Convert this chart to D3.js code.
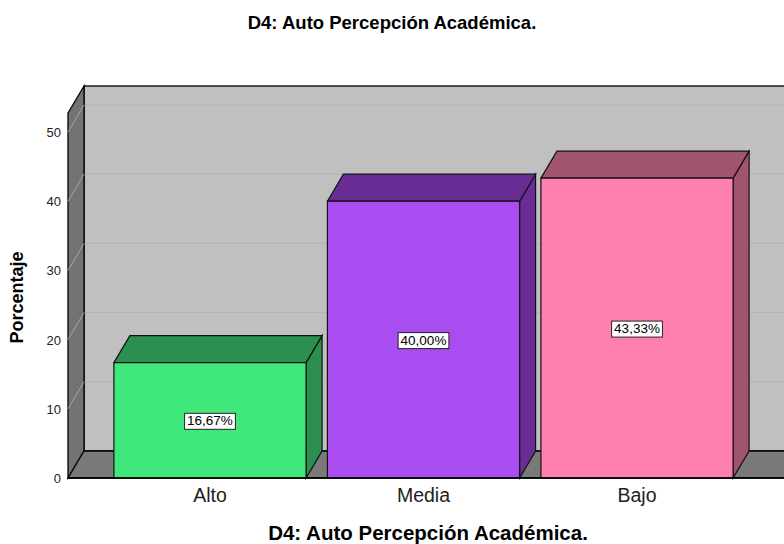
<!DOCTYPE html>
<html>
<head>
<meta charset="utf-8">
<script src="https://cdn.jsdelivr.net/npm/d3@7"></script>
<style>
  body { margin: 0; background: #fff; }
  text { font-family: "Liberation Sans", Arial, sans-serif; }
</style>
</head>
<body>
<div id="container"></div>
<script>
// data
const categories = ["Alto", "Media", "Bajo"];
const values = [16.67, 40.00, 43.33];
const valueLabels = ["16,67%", "40,00%", "43,33%"];
const yTicks = [0, 10, 20, 30, 40, 50];
const frontColors = ["#40e87c", "#a94cf0", "#ff80b0"];
const sideColors = ["#2a8f4f", "#6a2d96", "#a0546e"];

const W = 784, H = 544;
const dx = 16, dy = -27;   // depth offset of the 3D box

const svg = d3.select("#container")
  .append("svg")
    .attr("width", W)
    .attr("height", H);

const x = d3.scaleBand()
  .domain(categories)
  .range([68, 779])
  .paddingInner(0.1)
  .paddingOuter(0.215);

const y = d3.scaleLinear()
  .domain([0, 50])
  .range([478, 132]);

const yTop = 113; // front top of the left wall
const x0 = x.range()[0], x1 = x.range()[1];
const y0 = y(0);

// back wall
svg.append("rect")
  .attr("x", x0 + dx).attr("y", yTop + dy)
  .attr("width", x1 - x0 + 20).attr("height", y0 - yTop)
  .attr("fill", "#c0c0c0")
  .attr("stroke", "#000").attr("stroke-width", 1.3);

// back wall grid lines
svg.selectAll(".grid")
  .data(yTicks.filter(d => d > 0))
  .join("line")
    .attr("x1", x0 + dx).attr("x2", x1 + dx + 20)
    .attr("y1", d => y(d) + dy).attr("y2", d => y(d) + dy)
    .attr("stroke", "#b3b3b3").attr("stroke-width", 1);

// left wall
svg.append("path")
  .attr("d", `M${x0},${yTop} L${x0 + dx},${yTop + dy} L${x0 + dx},${y0 + dy} L${x0},${y0} Z`)
  .attr("fill", "#737373")
  .attr("stroke", "#000").attr("stroke-width", 1.3);

// diagonal grid on the left wall
svg.selectAll(".wallgrid")
  .data(yTicks)
  .join("line")
    .attr("x1", x0).attr("x2", x0 + dx)
    .attr("y1", d => y(d)).attr("y2", d => y(d) + dy)
    .attr("stroke", "#a6a6a6").attr("stroke-width", 1);

// floor
svg.append("path")
  .attr("d", `M${x0},${y0} L${x0 + dx},${y0 + dy} L${x1 + dx + 20},${y0 + dy} L${x1 + 20},${y0} Z`)
  .attr("fill", "#7a7a7a")
  .attr("stroke", "#000").attr("stroke-width", 1.3);

// bars
const bars = svg.selectAll(".bar")
  .data(categories)
  .join("g");

bars.append("path") // side
  .attr("d", (d, i) => {
    const xr = x(d) + x.bandwidth(), yt = y(values[i]);
    return `M${xr},${yt} L${xr + dx},${yt + dy} L${xr + dx},${y0 + dy} L${xr},${y0} Z`;
  })
  .attr("fill", (d, i) => sideColors[i])
  .attr("stroke", "#111").attr("stroke-width", 1.2);

bars.append("path") // top
  .attr("d", (d, i) => {
    const xl = x(d), xr = x(d) + x.bandwidth(), yt = y(values[i]);
    return `M${xl},${yt} L${xl + dx},${yt + dy} L${xr + dx},${yt + dy} L${xr},${yt} Z`;
  })
  .attr("fill", (d, i) => sideColors[i])
  .attr("stroke", "#111").attr("stroke-width", 1.2);

bars.append("rect") // front
  .attr("x", d => x(d))
  .attr("y", (d, i) => y(values[i]))
  .attr("width", x.bandwidth())
  .attr("height", (d, i) => y0 - y(values[i]))
  .attr("fill", (d, i) => frontColors[i])
  .attr("stroke", "#111").attr("stroke-width", 1.2);

// value labels
bars.each(function(d, i) {
  const g = d3.select(this);
  const cx = x(d) + x.bandwidth() / 2;
  const cy = (y(values[i]) + y0) / 2;
  const t = g.append("text")
    .attr("x", cx).attr("y", cy + 5)
    .attr("text-anchor", "middle")
    .style("font-size", "13.5px")
    .attr("fill", "#000")
    .text(valueLabels[i]);
  const bb = t.node().getBBox();
  g.insert("rect", "text")
    .attr("x", bb.x - 2.5).attr("y", bb.y)
    .attr("width", bb.width + 5).attr("height", bb.height + 1)
    .attr("fill", "#fff")
    .attr("stroke", "#222").attr("stroke-width", 1);
});

// bottom axis line
svg.append("line")
  .attr("x1", x0).attr("x2", x1 + 20)
  .attr("y1", y0).attr("y2", y0)
  .attr("stroke", "#000").attr("stroke-width", 1.5);

// y tick labels
svg.selectAll(".ytick")
  .data(yTicks)
  .join("text")
    .attr("x", 61)
    .attr("y", d => y(d) + 5)
    .attr("text-anchor", "end")
    .style("font-size", "13px")
    .attr("fill", "#222")
    .text(d => d);

// category labels
svg.selectAll(".xlab")
  .data(categories)
  .join("text")
    .attr("x", d => x(d) + x.bandwidth() / 2)
    .attr("y", 502)
    .attr("text-anchor", "middle")
    .style("font-size", "19.5px")
    .attr("fill", "#222")
    .text(d => d);

// titles
svg.append("text")
  .attr("x", 392).attr("y", 29)
  .attr("text-anchor", "middle")
  .style("font-size", "18.5px").style("font-weight", "bold")
  .text("D4: Auto Percepción Académica.");

svg.append("text")
  .attr("x", 428).attr("y", 540)
  .attr("text-anchor", "middle")
  .style("font-size", "20.5px").style("font-weight", "bold")
  .text("D4: Auto Percepción Académica.");

svg.append("text")
  .attr("transform", "translate(23,297.5) rotate(-90)")
  .attr("text-anchor", "middle")
  .style("font-size", "18px").style("font-weight", "bold")
  .text("Porcentaje");
</script>
</body>
</html>
